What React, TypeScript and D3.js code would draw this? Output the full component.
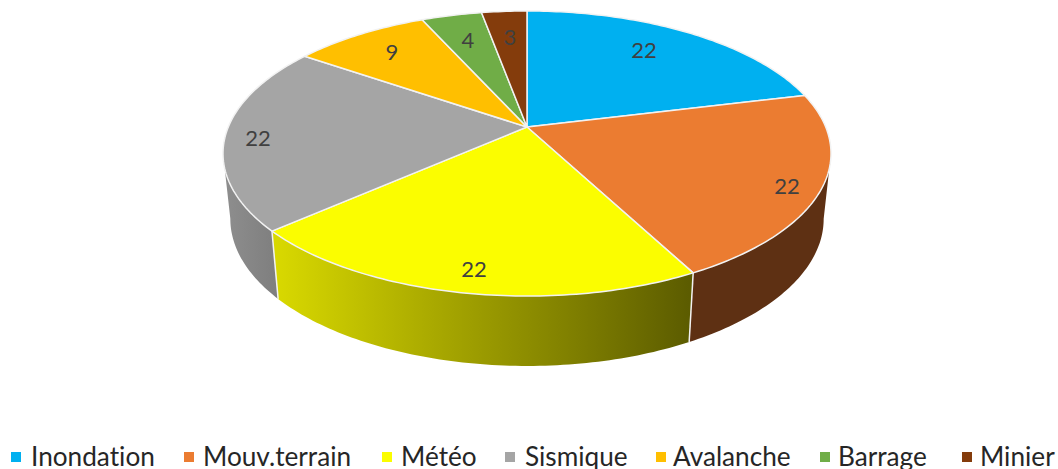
import React from "react";
import * as d3 from "d3";

const categories = ["Inondation", "Mouv.terrain", "Météo", "Sismique", "Avalanche", "Barrage", "Minier"];
const values = [22, 22, 22, 22, 9, 4, 3];
const colors = ["#00b0f0", "#eb7c31", "#fbfd00", "#a5a5a5", "#ffbf00", "#70ad47", "#843c0c"];

const CX = 527;
const P = 0.186;
const TOP = { cy: 127, rx: 298.7, ry: 137.6 };
const BASE = { cy: 191.5, rx: 291.5, ry: 142 };
// angle where the rim is widest: the side wall's silhouette starts there
const TANGENT = Math.acos(-P);

type Plane = { cy: number; rx: number; ry: number };
function project(pl: Plane, angle: number, r = 1): [number, number] {
  const u = Math.sin(angle) * r;
  const v = -Math.cos(angle) * r;
  const w = 1 - P * v;
  return [CX + (pl.rx * u) / w, pl.cy + (pl.ry * v) / w];
}

const line = d3.line();
function arcPoints(pl: Plane, a0: number, a1: number) {
  const n = Math.max(2, Math.ceil((a1 - a0) * 60));
  return d3.range(n + 1).map((i) => project(pl, a0 + ((a1 - a0) * i) / n));
}

const labelAt: [number, number][] = [
  [644, 49], [787, 185], [474, 268], [258, 137], [392, 51], [468, 39], [510, 36],
];
const legendSwatchX = [11, 184, 382, 505, 656, 820, 962];
const legendTextX = [31, 203, 401, 525, 673, 838, 980];

export default function App() {
  const arcs = d3.pie<number>().sort(null)(values);
  const side = (i: number) => {
    const a = arcs[i];
    const s = Math.max(a.startAngle, TANGENT);
    const e = Math.min(a.endAngle, 2 * Math.PI - TANGENT);
    const t = arcPoints(TOP, s, e);
    const b = arcPoints(BASE, s, e).reverse();
    return line([...t, ...b]) + "Z";
  };
  const face = (i: number) => {
    const a = arcs[i];
    return line([[CX, TOP.cy], ...arcPoints(TOP, a.startAngle, a.endAngle)]) + "Z";
  };
  const edge = (ang: number) => line([project(TOP, ang), project(BASE, ang)])!;
  return (
    <svg width={1058} height={469} style={{ position: "absolute", left: 0, top: 0, display: "block" }}>
      <defs>
        <linearGradient id="gy" gradientUnits="userSpaceOnUse" x1={278} x2={689} y1={0} y2={0}>
          <stop offset="0" stopColor="#d8d800" />
          <stop offset="1" stopColor="#5c5c00" />
        </linearGradient>
        <linearGradient id="gg" gradientUnits="userSpaceOnUse" x1={224} x2={278} y1={0} y2={0}>
          <stop offset="0" stopColor="#8e8e8e" />
          <stop offset="1" stopColor="#7e7e7e" />
        </linearGradient>
      </defs>
      <rect width={1058} height={469} fill="#fff" />
      <path d={side(1)} fill="#5e3013" />
      <path d={side(3)} fill="url(#gg)" />
      <path d={side(2)} fill="url(#gy)" />
      <path d={edge(arcs[1].endAngle)} stroke="#f2f2f2" strokeWidth={1.5} fill="none" />
      <path d={edge(arcs[2].endAngle)} stroke="#f2f2f2" strokeWidth={1.5} fill="none" />
      {arcs.map((a, i) => (
        <path key={i} d={face(i)} fill={colors[i]} stroke="#f2f2f2" strokeWidth={1.5} strokeLinejoin="round" />
      ))}
      {values.map((v, i) => (
        <text key={i} x={labelAt[i][0]} y={labelAt[i][1]} textAnchor="middle" dominantBaseline="central"
          fontFamily="Lato" fontSize={22} fill="#404040">{v}</text>
      ))}
      {categories.map((c, i) => (
        <g key={c}>
          <rect x={legendSwatchX[i]} y={452} width={10} height={10} fill={colors[i]} />
          <text x={legendTextX[i]} y={466} fontFamily="Lato" fontSize={26.2} fill="#262626"
            style={{ fontVariantLigatures: "none" }}>{c}</text>
        </g>
      ))}
    </svg>
  );
}
